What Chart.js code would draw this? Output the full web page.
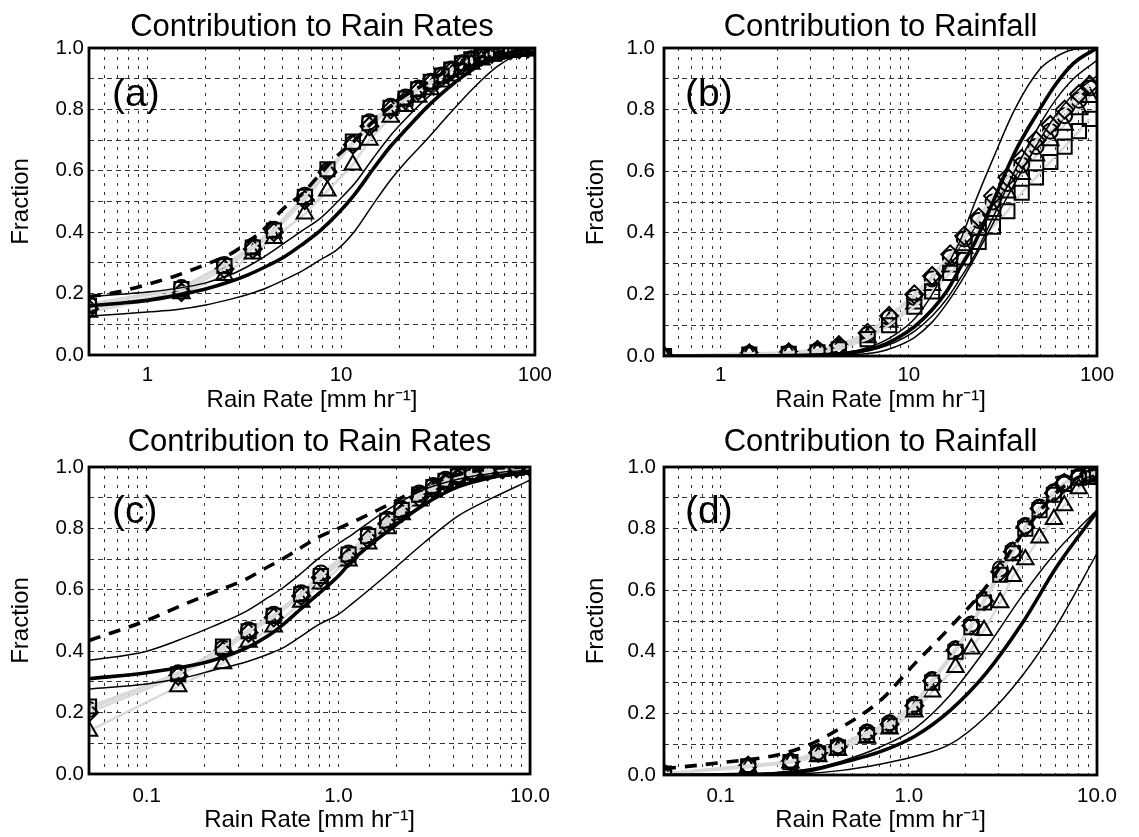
<!DOCTYPE html>
<html><head><meta charset="utf-8">
<script src="https://cdn.jsdelivr.net/npm/chart.js@4.4.1/dist/chart.umd.min.js"></script>
<style>
html,body{margin:0;padding:0;background:#fff;}
#wrap{position:relative;width:1139px;height:837px;overflow:hidden;background:#fff;}
canvas{position:absolute;}
</style></head><body>
<div id="wrap">
<canvas id="ca" width="560" height="418" style="left:0px;top:0px"></canvas>
<canvas id="cb" width="579" height="418" style="left:560px;top:0px"></canvas>
<canvas id="cc" width="560" height="419" style="left:0px;top:418px"></canvas>
<canvas id="cd" width="579" height="419" style="left:560px;top:418px"></canvas>
</div>
<script>
// ---------- text ----------
const titles = ['Contribution to Rain Rates', 'Contribution to Rainfall', 'Contribution to Rain Rates', 'Contribution to Rainfall'];
const panelLabels = ['(a)', '(b)', '(c)', '(d)'];
const xTitle = 'Rain Rate [mm hr\u207B\u00B9]';
const yTitle = 'Fraction';

// ---------- ticks ----------
const yGrid = [0, 0.1, 0.2, 0.3, 0.4, 0.5, 0.6, 0.7, 0.8, 0.9, 1.0];
const yTickLabels = ['0.0', '0.2', '0.4', '0.6', '0.8', '1.0'];
const xGridAB = [0.5, 0.6, 0.7, 0.8, 0.9, 1, 2, 3, 4, 5, 6, 7, 8, 9, 10, 20, 30, 40, 50, 60, 70, 80, 90, 100];
const xMajorAB = [1, 10, 100];
const xMajorLabelsAB = ['1', '10', '100'];
const xGridCD = [0.05, 0.06, 0.07, 0.08, 0.09, 0.1, 0.2, 0.3, 0.4, 0.5, 0.6, 0.7, 0.8, 0.9, 1, 2, 3, 4, 5, 6, 7, 8, 9, 10];
const xMajorCD = [0.1, 1, 10];
const xMajorLabelsCD = ['0.1', '1.0', '10.0'];

// ---------- panel (a) ----------
const xCurveA = [0.5, 0.7, 1, 1.43, 2, 2.7, 3.33, 4, 5.1, 6.3, 7.8, 9.6, 11.8, 14.6, 18, 22, 27.5, 35, 42, 52, 64, 80, 100];
const thickA  = [0.16, 0.168, 0.178, 0.195, 0.215, 0.24, 0.262, 0.285, 0.32, 0.36, 0.405, 0.46, 0.525, 0.605, 0.68, 0.74, 0.805, 0.865, 0.905, 0.945, 0.972, 0.99, 1.0];
const thinUpA = [0.19, 0.197, 0.205, 0.217, 0.235, 0.262, 0.29, 0.32, 0.365, 0.405, 0.445, 0.50, 0.56, 0.64, 0.715, 0.775, 0.835, 0.89, 0.925, 0.955, 0.975, 0.988, 0.995];
const thinLoA = [0.127, 0.133, 0.14, 0.148, 0.163, 0.182, 0.198, 0.215, 0.245, 0.274, 0.31, 0.345, 0.405, 0.49, 0.57, 0.635, 0.70, 0.775, 0.83, 0.89, 0.94, 0.975, 0.99];
const dashA   = [0.19, 0.205, 0.23, 0.26, 0.295, 0.33, 0.37, 0.41, 0.48, 0.525, 0.59, 0.65, 0.70, 0.76, 0.81, 0.85, 0.885, 0.925, 0.95, 0.97, 0.985, 0.995, 1.0];
const xMarkA = [0.5, 1.5, 2.5, 3.5, 4.5, 6.5, 8.5, 11.5, 14, 18, 21.5, 25, 29, 33, 37, 42, 47, 53, 60, 67, 75, 83, 92, 100];
const sqA  = [0.16, 0.215, 0.29, 0.35, 0.405, 0.515, 0.605, 0.695, 0.755, 0.805, 0.835, 0.865, 0.89, 0.91, 0.93, 0.95, 0.963, 0.974, 0.983, 0.99, 0.994, 0.997, 0.999, 1.0];
const diaA = [0.15, 0.205, 0.28, 0.345, 0.40, 0.505, 0.595, 0.685, 0.745, 0.80, 0.83, 0.86, 0.885, 0.905, 0.925, 0.945, 0.96, 0.972, 0.981, 0.988, 0.993, 0.996, 0.998, 1.0];
const cirA = [0.165, 0.22, 0.295, 0.355, 0.41, 0.52, 0.60, 0.69, 0.76, 0.81, 0.84, 0.87, 0.892, 0.912, 0.932, 0.952, 0.965, 0.976, 0.985, 0.991, 0.995, 0.998, 0.999, 1.0];
const triA = [0.14, 0.20, 0.26, 0.33, 0.38, 0.46, 0.535, 0.62, 0.70, 0.775, 0.81, 0.84, 0.865, 0.89, 0.91, 0.93, 0.948, 0.962, 0.974, 0.983, 0.99, 0.994, 0.997, 0.999];

// ---------- panel (b) ----------
const xCurveB = [0.5, 1, 2, 3, 4.4, 5.5, 6.9, 8.5, 10.7, 13.3, 15.9, 18.9, 22.5, 28, 36.5, 49.5, 60, 75, 100];
const thinLB  = [0, 0, 0.002, 0.004, 0.01, 0.02, 0.04, 0.07, 0.12, 0.2, 0.29, 0.38, 0.5, 0.64, 0.8, 0.93, 0.97, 0.995, 1.0];
const thickB  = [0, 0, 0.001, 0.003, 0.008, 0.015, 0.03, 0.055, 0.095, 0.15, 0.21, 0.29, 0.37, 0.5, 0.66, 0.8, 0.88, 0.95, 1.0];
const thinRB  = [0, 0, 0.001, 0.002, 0.006, 0.012, 0.025, 0.045, 0.08, 0.13, 0.185, 0.255, 0.33, 0.45, 0.6, 0.75, 0.83, 0.9, 0.96];
const thinLoB = [0, 0, 0, 0.001, 0.003, 0.006, 0.013, 0.03, 0.06, 0.11, 0.17, 0.24, 0.32, 0.43, 0.56, 0.7, 0.78, 0.85, 0.91];
const xMarkB = [0.5, 1.42, 2.3, 3.27, 4.25, 6.04, 7.86, 10.7, 13.3, 16.6, 19.7, 23.5, 28, 33.4, 39.8, 47.4, 56.5, 67.3, 80.2, 91.5];
const diaB = [0.0, 0.008, 0.012, 0.02, 0.035, 0.075, 0.13, 0.2, 0.26, 0.33, 0.39, 0.45, 0.52, 0.58, 0.64, 0.7, 0.75, 0.8, 0.85, 0.88];
const cirB = [0.0, 0.008, 0.01, 0.018, 0.03, 0.07, 0.125, 0.19, 0.25, 0.32, 0.38, 0.44, 0.5, 0.56, 0.62, 0.68, 0.73, 0.78, 0.83, 0.87];
const triB = [0.0, 0.005, 0.008, 0.014, 0.025, 0.06, 0.11, 0.17, 0.23, 0.29, 0.35, 0.41, 0.47, 0.53, 0.59, 0.65, 0.7, 0.75, 0.8, 0.84];
const sqB  = [0.0, 0.005, 0.007, 0.012, 0.022, 0.055, 0.1, 0.16, 0.21, 0.27, 0.32, 0.37, 0.42, 0.47, 0.53, 0.58, 0.63, 0.68, 0.73, 0.77];

// ---------- panel (c) ----------
const xCurveC = [0.05, 0.1, 0.16, 0.22, 0.33, 0.43, 0.51, 0.63, 0.78, 1.0, 1.18, 1.8, 2.76, 4.2, 6.4, 10];
const dashC   = [0.435, 0.50, 0.555, 0.59, 0.635, 0.675, 0.70, 0.735, 0.77, 0.80, 0.82, 0.875, 0.935, 0.975, 0.995, 1.0];
const thinUpC = [0.37, 0.40, 0.445, 0.48, 0.53, 0.575, 0.605, 0.65, 0.70, 0.75, 0.78, 0.86, 0.925, 0.96, 0.98, 0.99];
const thickC  = [0.31, 0.33, 0.35, 0.37, 0.41, 0.45, 0.485, 0.535, 0.585, 0.645, 0.695, 0.79, 0.875, 0.935, 0.967, 0.985];
const thinLoC = [0.277, 0.293, 0.315, 0.337, 0.365, 0.39, 0.41, 0.446, 0.485, 0.52, 0.555, 0.65, 0.75, 0.84, 0.90, 0.957];
const xMarkC = [0.05, 0.146, 0.25, 0.34, 0.46, 0.64, 0.81, 1.13, 1.43, 1.8, 2.14, 2.64, 3.13, 3.62, 4.2, 5, 6, 7.2, 8.5, 10];
const cirC = [0.21, 0.33, 0.41, 0.47, 0.52, 0.59, 0.655, 0.72, 0.78, 0.83, 0.865, 0.915, 0.94, 0.96, 0.975, 0.985, 0.99, 0.995, 0.998, 1.0];
const sqC  = [0.22, 0.325, 0.415, 0.465, 0.515, 0.585, 0.645, 0.715, 0.775, 0.825, 0.86, 0.91, 0.935, 0.955, 0.97, 0.982, 0.989, 0.994, 0.997, 1.0];
const diaC = [0.2, 0.32, 0.40, 0.46, 0.51, 0.58, 0.64, 0.705, 0.765, 0.815, 0.85, 0.9, 0.93, 0.95, 0.965, 0.978, 0.986, 0.992, 0.996, 0.999];
const triC = [0.14, 0.285, 0.36, 0.43, 0.48, 0.56, 0.62, 0.695, 0.75, 0.80, 0.845, 0.89, 0.92, 0.945, 0.96, 0.975, 0.985, 0.991, 0.995, 0.998];

// ---------- panel (d) ----------
const xCurveD = [0.05, 0.1, 0.2, 0.3, 0.44, 0.7, 1.07, 1.66, 2.57, 3.98, 6.17, 10];
const dashD   = [0.02, 0.04, 0.065, 0.10, 0.155, 0.24, 0.36, 0.48, 0.61, 0.78, 0.92, 1.0];
const thinUpD = [0, 0.002, 0.008, 0.02, 0.045, 0.09, 0.15, 0.26, 0.41, 0.58, 0.73, 0.86];
const thickD  = [0, 0.001, 0.005, 0.015, 0.04, 0.075, 0.125, 0.21, 0.33, 0.49, 0.68, 0.855];
const thinLoD = [0, 0, 0.002, 0.006, 0.015, 0.035, 0.06, 0.10, 0.19, 0.32, 0.49, 0.72];
const xMarkD = [0.05, 0.14, 0.235, 0.33, 0.42, 0.6, 0.79, 1.07, 1.33, 1.77, 2.15, 2.51, 3.06, 3.57, 4.16, 4.95, 5.9, 6.7, 8.0, 9.1, 10];
const cirD = [0.005, 0.03, 0.045, 0.075, 0.095, 0.14, 0.17, 0.23, 0.31, 0.41, 0.49, 0.57, 0.67, 0.73, 0.81, 0.87, 0.92, 0.95, 0.97, 0.98, 0.99];
const sqD  = [0.005, 0.028, 0.042, 0.07, 0.09, 0.13, 0.16, 0.22, 0.30, 0.40, 0.48, 0.56, 0.65, 0.72, 0.80, 0.86, 0.91, 0.945, 0.965, 0.975, 0.985];
const diaD = [0.005, 0.03, 0.044, 0.072, 0.092, 0.135, 0.165, 0.225, 0.305, 0.405, 0.485, 0.565, 0.66, 0.725, 0.805, 0.865, 0.915, 0.948, 0.968, 0.978, 0.988];
const triD = [0.003, 0.025, 0.04, 0.06, 0.08, 0.12, 0.15, 0.205, 0.27, 0.35, 0.41, 0.47, 0.56, 0.645, 0.70, 0.77, 0.83, 0.875, 0.93, 0.96, 0.97];

// ---------- helpers ----------
Chart.defaults.font.family = '"Liberation Sans", Arial, Helvetica, sans-serif';
Chart.defaults.color = '#000';

function pts(xs, ys) { return xs.map((x, i) => ({ x: x, y: ys[i] })); }
function curve(xs, ys, kind) {
  return {
    data: pts(xs, ys), showLine: true, borderColor: '#000',
    borderWidth: kind === 'thin' ? 1.5 : 3.6,
    borderDash: kind === 'dash' ? [12, 9] : [],
    pointRadius: 0, cubicInterpolationMode: 'monotone', order: 1
  };
}
function marks(xs, ys, style, r) {
  return {
    data: pts(xs, ys), showLine: true, borderColor: '#d9d9d9', borderWidth: 2.5,
    pointStyle: style, pointRadius: r, pointBorderColor: '#000',
    pointBackgroundColor: 'rgba(0,0,0,0)', pointBorderWidth: 2, order: 2
  };
}
function majorLabel(v, majors, labels) {
  const i = majors.findIndex(m => Math.abs(m - v) / m < 1e-6);
  return i >= 0 ? labels[i] : '';
}

const framePlugin = {
  id: 'frame',
  afterDatasetsDraw(chart, args, opts) {
    const a = chart.chartArea, ctx = chart.ctx;
    ctx.save();
    ctx.lineWidth = 2.8; ctx.strokeStyle = '#000';
    ctx.strokeRect(a.left, a.top, a.right - a.left, a.bottom - a.top);
    ctx.font = opts.size + 'px "Liberation Sans", Arial, sans-serif';
    ctx.fillStyle = '#000'; ctx.textBaseline = 'middle'; ctx.textAlign = 'left';
    ctx.fillText(opts.text, a.left + opts.dx, a.top + opts.dy);
    ctx.restore();
  }
};

function makePanel(id, idx, g, xmin, xmax, xGrid, xMajor, xMajorLabels, datasets) {
  return new Chart(document.getElementById(id), {
    type: 'scatter',
    data: { datasets: datasets },
    plugins: [framePlugin],
    options: {
      responsive: false, animation: false, events: [],
      layout: { padding: { left: 0, right: g.padR, top: 0, bottom: 0 } },
      plugins: {
        legend: { display: false }, tooltip: { enabled: false },
        title: { display: true, text: titles[idx], fullSize: false, color: '#000',
          font: { size: 31, weight: 'normal' }, padding: { top: g.tTop, bottom: g.tBot } },
        frame: { text: panelLabels[idx], dx: g.lx, dy: g.ly, size: 39 }
      },
      scales: {
        x: {
          type: 'logarithmic', min: xmin, max: xmax,
          afterBuildTicks: s => { s.ticks = xGrid.map(v => ({ value: v })); },
          afterFit: s => { s.height = g.xH; },
          ticks: { autoSkip: false, maxRotation: 0, minRotation: 0, padding: g.xTickPad,
            font: { size: 20.5 }, color: '#000',
            callback: v => majorLabel(v, xMajor, xMajorLabels) },
          grid: { color: '#333', lineWidth: 1, drawTicks: false },
          border: { display: false, dash: [3, 6] },
          title: { display: true, text: xTitle, font: { size: 24 }, color: '#000',
            padding: { top: 0, bottom: g.xTitlePad } }
        },
        y: {
          type: 'linear', min: 0, max: 1,
          afterBuildTicks: s => { s.ticks = yGrid.map(v => ({ value: v })); },
          afterFit: s => { s.width = g.yW; },
          ticks: { autoSkip: false, padding: g.yTickPad, font: { size: 20.5 }, color: '#000',
            callback: (v, i) => (i % 2 === 0 ? yTickLabels[i / 2] : '') },
          grid: { color: '#333', lineWidth: 1, drawTicks: false },
          border: { display: false, dash: [5, 4] },
          title: { display: true, text: yTitle, font: { size: 24 }, color: '#000',
            padding: { top: g.yTitlePad, bottom: 0 } }
        }
      }
    }
  });
}

makePanel('ca', 0,
  { yW: 89, padR: 24, tTop: 8.4, tBot: 2.4, xH: 63, xTickPad: 8, xTitlePad: 3.6, yTickPad: 5, yTitlePad: 6.6, lx: 23, ly: 47 },
  0.5, 100, xGridAB, xMajorAB, xMajorLabelsAB, [
    curve(xCurveA, thickA, 'thick'), curve(xCurveA, thinUpA, 'thin'), curve(xCurveA, thinLoA, 'thin'), curve(xCurveA, dashA, 'dash'),
    marks(xMarkA, sqA, 'rect', 10), marks(xMarkA, diaA, 'rectRot', 9), marks(xMarkA, cirA, 'circle', 7.5), marks(xMarkA, triA, 'triangle', 9.5)
  ]);

makePanel('cb', 1,
  { yW: 104, padR: 42, tTop: 8.4, tBot: 2.4, xH: 62, xTickPad: 7, xTitlePad: 3.6, yTickPad: 9, yTitlePad: 21.6, lx: 21, ly: 47 },
  0.5, 100, xGridAB, xMajorAB, xMajorLabelsAB, [
    curve(xCurveB, thickB, 'thick'), curve(xCurveB, thinLB, 'thin'), curve(xCurveB, thinRB, 'thin'), curve(xCurveB, thinLoB, 'thin'),
    marks(xMarkB, sqB, 'rect', 10), marks(xMarkB, diaB, 'rectRot', 9), marks(xMarkB, cirB, 'circle', 7.5), marks(xMarkB, triB, 'triangle', 9.5)
  ]);

makePanel('cc', 2,
  { yW: 89, padR: 24, tTop: 5.4, tBot: 6.4, xH: 63, xTickPad: 10, xTitlePad: 2.6, yTickPad: 5, yTitlePad: 6.6, lx: 23, ly: 45 },
  0.05, 10, xGridCD, xMajorCD, xMajorLabelsCD, [
    curve(xCurveC, thickC, 'thick'), curve(xCurveC, thinUpC, 'thin'), curve(xCurveC, thinLoC, 'thin'), curve(xCurveC, dashC, 'dash'),
    marks(xMarkC, sqC, 'rect', 10), marks(xMarkC, diaC, 'rectRot', 9), marks(xMarkC, cirC, 'circle', 7.5), marks(xMarkC, triC, 'triangle', 9.5)
  ]);

makePanel('cd', 3,
  { yW: 104, padR: 42, tTop: 5.4, tBot: 6.4, xH: 62, xTickPad: 9, xTitlePad: 2.6, yTickPad: 8, yTitlePad: 21.6, lx: 21, ly: 45 },
  0.05, 10, xGridCD, xMajorCD, xMajorLabelsCD, [
    curve(xCurveD, thickD, 'thick'), curve(xCurveD, thinUpD, 'thin'), curve(xCurveD, thinLoD, 'thin'), curve(xCurveD, dashD, 'dash'),
    marks(xMarkD, sqD, 'rect', 10), marks(xMarkD, diaD, 'rectRot', 9), marks(xMarkD, cirD, 'circle', 7.5), marks(xMarkD, triD, 'triangle', 9.5)
  ]);
</script>
</body></html>
